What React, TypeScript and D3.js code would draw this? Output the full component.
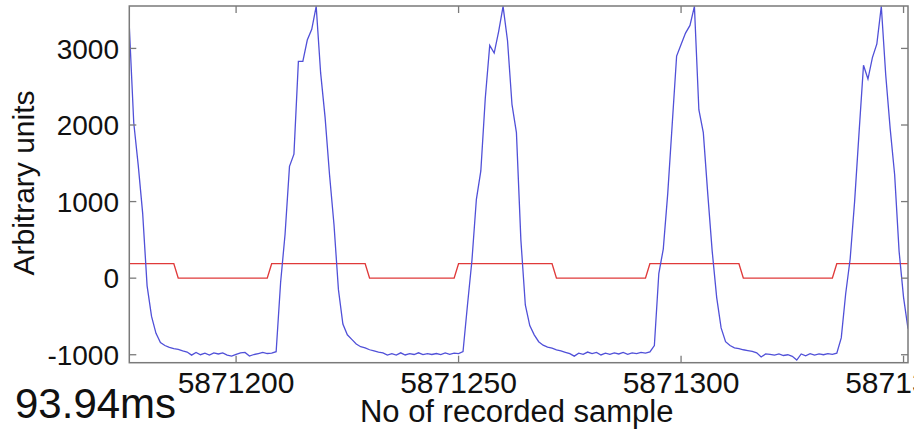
import React from "react";
import * as d3 from "d3";

// sample numbers (x) run from FIRST_SAMPLE, one value per sample
const FIRST_SAMPLE = 5871176;
const X_DOMAIN = [5871176, 5871351];
const Y_DOMAIN = [-1104, 3554];

const xTicks = [5871200, 5871250, 5871300, 5871350];
const yTicks = [-1000, 0, 1000, 2000, 3000];

const blueValues = [
  3290, 2030, 1480, 850, -100, -500, -720, -840, -880, -905,
  -920, -930, -950, -965, -1005, -970, -1000, -980, -1005, -975,
  -990, -975, -1005, -1018, -995, -975, -970, -1018, -997, -984,
  -970, -984, -980, -960, -60, 570, 1460, 1620, 2830, 2830,
  3110, 3250, 3550, 2680, 2100, 1350, 700, -150, -600, -740,
  -800, -860, -895, -910, -935, -950, -965, -975, -1005, -985,
  -1005, -975, -1003, -985, -997, -975, -998, -985, -997, -984,
  -998, -975, -995, -980, -985, -960, -350, 230, 1030, 1400,
  2350, 3040, 2940, 3220, 3550, 3100, 2270, 1900, 500, -350,
  -620, -740, -830, -875, -900, -915, -935, -950, -968, -985,
  -1018, -980, -995, -965, -985, -970, -1003, -980, -995, -975,
  -990, -970, -995, -975, -985, -970, -980, -962, -880, 60,
  380, 1100, 2000, 2900, 3050, 3200, 3300, 3550, 2200, 1900,
  1100, 350, -250, -650, -830, -880, -910, -920, -935, -945,
  -955, -975, -1030, -990, -995, -1005, -990, -1010, -1000, -1020,
  -1070, -990, -1015, -985, -1005, -990, -1000, -985, -995, -980,
  -780, -200, 250, 1000, 1900, 2780, 2600, 2880, 3060, 3550,
  2650, 1950, 1350, 350, -250, -660,
];

const redValues = [
  190, 190, 190, 190, 190, 190, 190, 190, 190, 190,
  190, 0, 0, 0, 0, 0, 0, 0, 0, 0,
  0, 0, 0, 0, 0, 0, 0, 0, 0, 0,
  0, 0, 190, 190, 190, 190, 190, 190, 190, 190,
  190, 190, 190, 190, 190, 190, 190, 190, 190, 190,
  190, 190, 190, 190, 0, 0, 0, 0, 0, 0,
  0, 0, 0, 0, 0, 0, 0, 0, 0, 0,
  0, 0, 0, 0, 190, 190, 190, 190, 190, 190,
  190, 190, 190, 190, 190, 190, 190, 190, 190, 190,
  190, 190, 190, 190, 190, 190, 0, 0, 0, 0,
  0, 0, 0, 0, 0, 0, 0, 0, 0, 0,
  0, 0, 0, 0, 0, 0, 0, 190, 190, 190,
  190, 190, 190, 190, 190, 190, 190, 190, 190, 190,
  190, 190, 190, 190, 190, 190, 190, 190, 0, 0,
  0, 0, 0, 0, 0, 0, 0, 0, 0, 0,
  0, 0, 0, 0, 0, 0, 0, 0, 0, 190,
  190, 190, 190, 190, 190, 190, 190, 190, 190, 190,
  190, 190, 190, 190, 190, 190,
];

const xLabel = "No of recorded sample";
const yLabel = "Arbitrary units";
const cornerNote = "93.94ms";

const W = 914;
const H = 435;
const M = { left: 129.3, right: 908, top: 6, bottom: 362.7 };
const FONT = "'Liberation Sans', Arial, Helvetica, sans-serif";

export default function App() {
  const x = d3.scaleLinear().domain(X_DOMAIN).range([M.left, M.right]);
  const y = d3.scaleLinear().domain(Y_DOMAIN).range([M.bottom, M.top]);

  const line = d3
    .line<number>()
    .x((_, i) => x(FIRST_SAMPLE + i))
    .y((d) => y(d));

  const axisColor = "#7a7a7a";
  const tickLen = 7;

  return (
    <svg
      width={W}
      height={H}
      style={{ position: "absolute", left: 0, top: 0, background: "#fff" }}
      fontFamily={FONT}
    >
      <defs>
        <clipPath id="plotClip">
          <rect x={M.left} y={M.top} width={M.right - M.left} height={M.bottom - M.top} />
        </clipPath>
      </defs>
      <rect x={0} y={0} width={W} height={H} fill="#fff" />

      <g clipPath="url(#plotClip)">
        <path d={line(redValues) || ""} fill="none" stroke="#e03a3a" strokeWidth={1.4} />
        <path d={line(blueValues) || ""} fill="none" stroke="#5050d8" strokeWidth={1.3} />
      </g>

      {/* box */}
      <rect
        x={M.left}
        y={M.top}
        width={M.right - M.left}
        height={M.bottom - M.top}
        fill="none"
        stroke={axisColor}
        strokeWidth={1.5}
      />

      {/* x ticks */}
      {xTicks.map((t) => (
        <g key={"x" + t}>
          <line x1={x(t)} x2={x(t)} y1={M.bottom} y2={M.bottom - tickLen} stroke={axisColor} strokeWidth={1.3} />
          <line x1={x(t)} x2={x(t)} y1={M.top} y2={M.top + tickLen} stroke={axisColor} strokeWidth={1.3} />
          <text x={x(t)} y={393} textAnchor="middle" fontSize={30} fill="#111">
            {t}
          </text>
        </g>
      ))}

      {/* y ticks */}
      {yTicks.map((t) => (
        <g key={"y" + t}>
          <line x1={M.left} x2={M.left + tickLen} y1={y(t)} y2={y(t)} stroke={axisColor} strokeWidth={1.3} />
          <line x1={M.right} x2={M.right - tickLen} y1={y(t)} y2={y(t)} stroke={axisColor} strokeWidth={1.3} />
          <text x={119} y={y(t)} dy="0.36em" textAnchor="end" fontSize={28} fill="#111">
            {t}
          </text>
        </g>
      ))}

      <text x={516.7} y={421.5} textAnchor="middle" fontSize={31} fill="#111">
        {xLabel}
      </text>
      <text
        transform={`translate(33.5, 183) rotate(-90)`}
        textAnchor="middle"
        fontSize={30}
        fill="#111"
      >
        {yLabel}
      </text>
      <text x={15} y={418} fontSize={42} fill="#111">
        {cornerNote}
      </text>
    </svg>
  );
}
